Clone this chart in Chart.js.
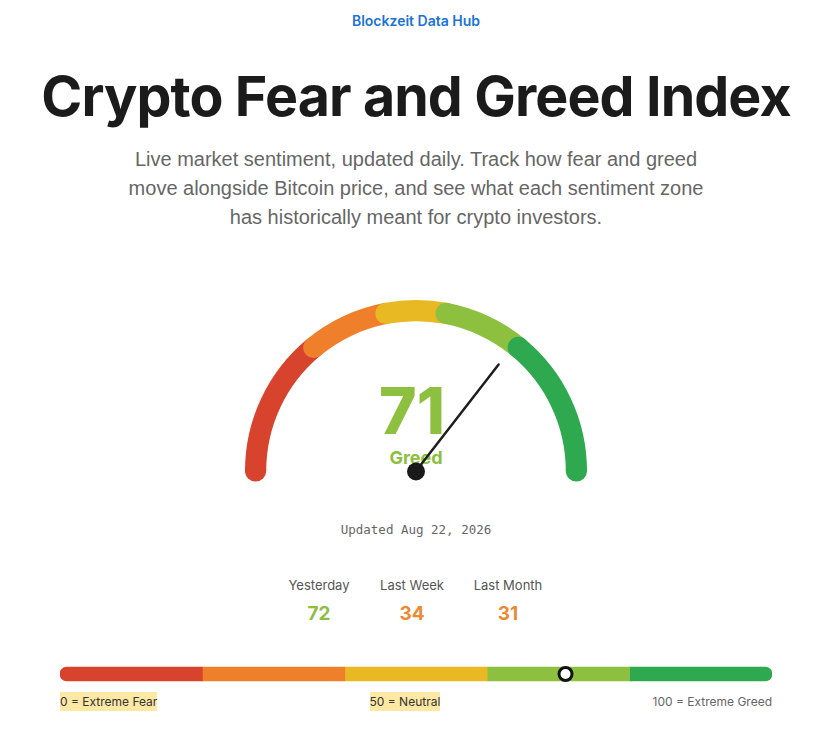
<!DOCTYPE html>
<html>
<head>
<meta charset="utf-8">
<script src="https://cdn.jsdelivr.net/npm/chart.js@4"></script>
<style>
html,body{margin:0;padding:0;background:#fff;}
body{width:839px;height:739px;position:relative;overflow:hidden;font-family:Inter,"Liberation Sans",sans-serif;}
.hub{position:absolute;top:12px;left:0;width:832px;text-align:center;color:#1a73d8;font-size:14px;font-weight:600;}
h1{position:absolute;top:62px;left:0;width:832px;margin:0;text-align:center;font-size:55.5px;font-weight:700;color:#1b1b1b;letter-spacing:-0.9px;}
.sub{position:absolute;top:145px;left:0;width:832px;text-align:center;font-family:"Liberation Sans",Arial,sans-serif;font-size:20px;line-height:29px;color:#666;}
.big{position:absolute;top:372px;left:312px;width:200px;text-align:center;font-size:64px;font-weight:800;color:#8dc03f;z-index:0;}
.lbl{position:absolute;top:447px;left:316px;width:200px;text-align:center;font-size:18px;font-weight:700;color:#8dc03f;z-index:0;}
#gaugeBox{position:absolute;left:240px;top:295px;width:352px;height:191px;z-index:1;}
.upd{position:absolute;top:522px;left:0;width:832px;text-align:center;font-family:"DejaVu Sans Mono",monospace;font-size:12.5px;color:#666;}
.stat{position:absolute;top:577px;width:120px;text-align:center;}
.stat .t{font-size:13px;color:#555;}
.stat .v{font-size:19px;font-weight:700;margin-top:9px;}
#barBox{position:absolute;left:60px;top:662px;width:712px;height:24px;}
.legend{position:absolute;left:60px;top:692px;width:712px;display:flex;justify-content:space-between;font-size:12px;}
.legend span{padding:2px 0;color:#333;}
.legend .hl{background:#fde8a4;}
.legend .gr{color:#666;}
</style>
</head>
<body>

<div class="hub">Blockzeit Data Hub</div>
<h1>Crypto Fear and Greed Index</h1>
<div class="sub">Live market sentiment, updated daily. Track how fear and greed<br>move alongside Bitcoin price, and see what each sentiment zone<br>has historically meant for crypto investors.</div>

<div class="big" id="bigValue"></div>
<div class="lbl" id="bigLabel"></div>
<div id="gaugeBox"><canvas id="gaugeChart"></canvas></div>

<div class="upd">Updated Aug 22, 2026</div>

<div id="stats"></div>

<div id="barBox"><canvas id="barChart"></canvas></div>
<div class="legend">
<span class="hl">0 = Extreme Fear</span>
<span class="hl">50 = Neutral</span>
<span class="gr">100 = Extreme Greed</span>
</div>

<script>

// -------------------------------------
// DATA
// -------------------------------------

const currentValue = 71;
const currentLabel = "Greed";

const zoneNames = ["Extreme Fear", "Fear", "Neutral", "Greed", "Extreme Greed"];
const zoneColors = ["#d8432d", "#f07f2c", "#e8b923", "#8dc03f", "#2ea94f"];

// gauge zones (width of each zone on the 0-100 dial)
const gaugeZones = [28, 16, 12, 16, 28];

// bottom bar zones (equal fifths)
const barStarts = [0, 20, 40, 60, 80];
const barEnds = [20, 40, 60, 80, 100];

const historyLabels = ["Yesterday", "Last Week", "Last Month"];
const historyValues = [72, 34, 31];
const historyColors = ["#8dc03f", "#ec8a32", "#ec8a32"];
const historyCenters = [319, 412, 508];


// -------------------------------------
// TEXT
// -------------------------------------

document.getElementById("bigValue").innerText = currentValue;
document.getElementById("bigLabel").innerText = currentLabel;

const statsBox = document.getElementById("stats");
historyLabels.forEach((lab, i) => {
const d = document.createElement("div");
d.className = "stat";
d.style.left = (historyCenters[i] - 60) + "px";
d.innerHTML = '<div class="t">' + lab + '</div><div class="v" style="color:' + historyColors[i] + '">' + historyValues[i] + '</div>';
statsBox.appendChild(d);
});


// -------------------------------------
// GAUGE PLUGIN (round caps + needle)
// -------------------------------------

const gaugeExtras = {
id: "gaugeExtras",
afterDatasetsDraw(chart){
const ctx = chart.ctx;
const arcs = chart.getDatasetMeta(0).data;
if(!arcs.length) return;

ctx.save();
arcs.forEach((a, i) => {
const p = a.getProps(["x","y","startAngle","endAngle","innerRadius","outerRadius"], true);
const r = (p.innerRadius + p.outerRadius) / 2;
const cap = (p.outerRadius - p.innerRadius) / 2;
ctx.fillStyle = zoneColors[i];
ctx.beginPath();
ctx.arc(p.x + r * Math.cos(p.startAngle), p.y + r * Math.sin(p.startAngle), cap, 0, Math.PI * 2);
ctx.fill();
if(i === arcs.length - 1){
ctx.beginPath();
ctx.arc(p.x + r * Math.cos(p.endAngle), p.y + r * Math.sin(p.endAngle), cap, 0, Math.PI * 2);
ctx.fill();
}
});

// needle
const first = arcs[0].getProps(["x","y","startAngle","innerRadius"], true);
const ang = first.startAngle + Math.PI * currentValue / 100;
const len = first.innerRadius - 15;
ctx.strokeStyle = "#1e1e1e";
ctx.lineWidth = 2.5;
ctx.lineCap = "round";
ctx.beginPath();
ctx.moveTo(first.x, first.y);
ctx.lineTo(first.x + len * Math.cos(ang), first.y + len * Math.sin(ang));
ctx.stroke();

ctx.fillStyle = "#1a1a1a";
ctx.beginPath();
ctx.arc(first.x, first.y + 0.5, 9, 0, Math.PI * 2);
ctx.fill();
ctx.restore();
}
};


// -------------------------------------
// GAUGE CHART
// -------------------------------------

new Chart(document.getElementById("gaugeChart"), {

type: "doughnut",

data: {
labels: zoneNames,
datasets: [{
data: gaugeZones,
backgroundColor: zoneColors,
borderWidth: 0
}]
},

options: {
responsive: true,
maintainAspectRatio: false,
animation: false,
rotation: -90,
circumference: 180,
cutout: "87.6%",
layout: { padding: { left: 5, right: 5, top: 5, bottom: 15 } },
plugins: { legend: { display: false }, tooltip: { enabled: false } },
events: []
},

plugins: [gaugeExtras]

});


// -------------------------------------
// ZONE BAR
// -------------------------------------

const barSets = zoneColors.map((c, i) => ({
type: "bar",
data: [[barStarts[i], barEnds[i]]],
backgroundColor: c,
borderWidth: 0,
borderSkipped: false,
borderRadius: i === 0 ? { topLeft: 7, bottomLeft: 7 } : (i === zoneColors.length - 1 ? { topRight: 7, bottomRight: 7 } : 0),
barThickness: 14,
grouped: false,
order: 1
}));

barSets.push({
type: "line",
data: [{ x: currentValue, y: "zone" }],
showLine: false,
pointRadius: 6.5,
pointBackgroundColor: "#ffffff",
pointBorderColor: "#111111",
pointBorderWidth: 3,
clip: false,
order: 0
});

new Chart(document.getElementById("barChart"), {

type: "bar",

data: {
labels: ["zone"],
datasets: barSets
},

options: {
indexAxis: "y",
responsive: true,
maintainAspectRatio: false,
animation: false,
layout: { padding: 0, autoPadding: false },
scales: {
x: { type: "linear", min: 0, max: 100, display: false },
y: { display: false }
},
plugins: { legend: { display: false }, tooltip: { enabled: false } },
events: []
}

});

</script>
</body>
</html>
